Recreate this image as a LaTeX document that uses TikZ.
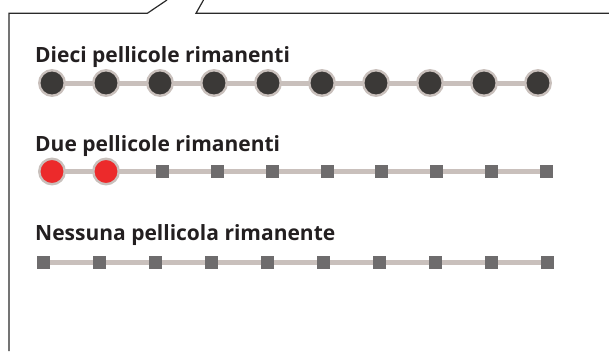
\documentclass[tikz,border=0pt]{standalone}
\usepackage{fontspec}
\setmainfont{Open Sans}
\usetikzlibrary{backgrounds}
\definecolor{txt}{HTML}{231F20}
\definecolor{trk}{HTML}{C9C0BC}
\definecolor{dotfill}{HTML}{3B3937}
\definecolor{redfill}{HTML}{EC2A2B}
\definecolor{sqfill}{HTML}{6E6C6D}
\definecolor{frame}{HTML}{2A2A2A}
\tikzset{
  lbl/.style={anchor=base west, inner sep=0pt, text=txt, font=\fontsize{21}{24}\selectfont\bfseries},
  darkdot/.style={circle, draw=trk, line width=2.4pt, fill=dotfill, minimum size=25.5pt, inner sep=0pt},
  reddot/.style={circle, draw=trk, line width=2.4pt, fill=redfill, minimum size=25.5pt, inner sep=0pt},
  sq/.style={rectangle, fill=sqfill, minimum size=13pt, inner sep=0pt},
  track/.style={draw=trk, line width=5pt},
  framel/.style={draw=frame, line width=1.2pt}
}
\begin{document}
\begin{tikzpicture}[x=1pt,y=-1pt]
\useasboundingbox (0,0) rectangle (609,351);
% callout frame
\coordinate (f1) at (9,351);
\coordinate (f2) at (9,13.3);
\coordinate (f3) at (147.3,13.3);
\coordinate (f4) at (167,0);
\coordinate (f5) at (203.5,0);
\coordinate (f6) at (196,13.3);
\coordinate (f7) at (609,13.3);
\draw[framel] (f1) -- (f2) -- (f3) -- (f4);
\draw[framel] (f5) -- (f6) -- (f7);
% row 1
\node[lbl] (t1) at (35,62) {Dieci pellicole rimanenti};
\foreach \i in {1,...,10} {
  \node[darkdot] (a\i) at ({52+54*(\i-1)},83) {};
}
\begin{scope}[on background layer]
\foreach \i [evaluate=\i as \j using int(\i+1)] in {1,...,9} {
  \draw[track] (a\i.center) -- (a\j.center);
}
\end{scope}
% row 2
\node[lbl] (t2) at (35,151) {Due pellicole rimanenti};
\node[reddot] (b1) at (52,171.5) {};
\node[reddot] (b2) at (106,171.5) {};
\foreach \i in {3,...,10} {
  \node[sq] (b\i) at ({162.5+54.857*(\i-3)},171.5) {};
}
\begin{scope}[on background layer]
\foreach \i [evaluate=\i as \j using int(\i+1)] in {1,...,9} {
  \draw[track] (b\i.center) -- (b\j.center);
}
\end{scope}
% row 3
\node[lbl] (t3) at (35,240) {Nessuna pellicola rimanente};
\foreach \i in {1,...,10} {
  \node[sq] (c\i) at ({43.5+56*(\i-1)},262.5) {};
}
\begin{scope}[on background layer]
\foreach \i [evaluate=\i as \j using int(\i+1)] in {1,...,9} {
  \draw[track] (c\i.center) -- (c\j.center);
}
\end{scope}
\end{tikzpicture}
\end{document}
